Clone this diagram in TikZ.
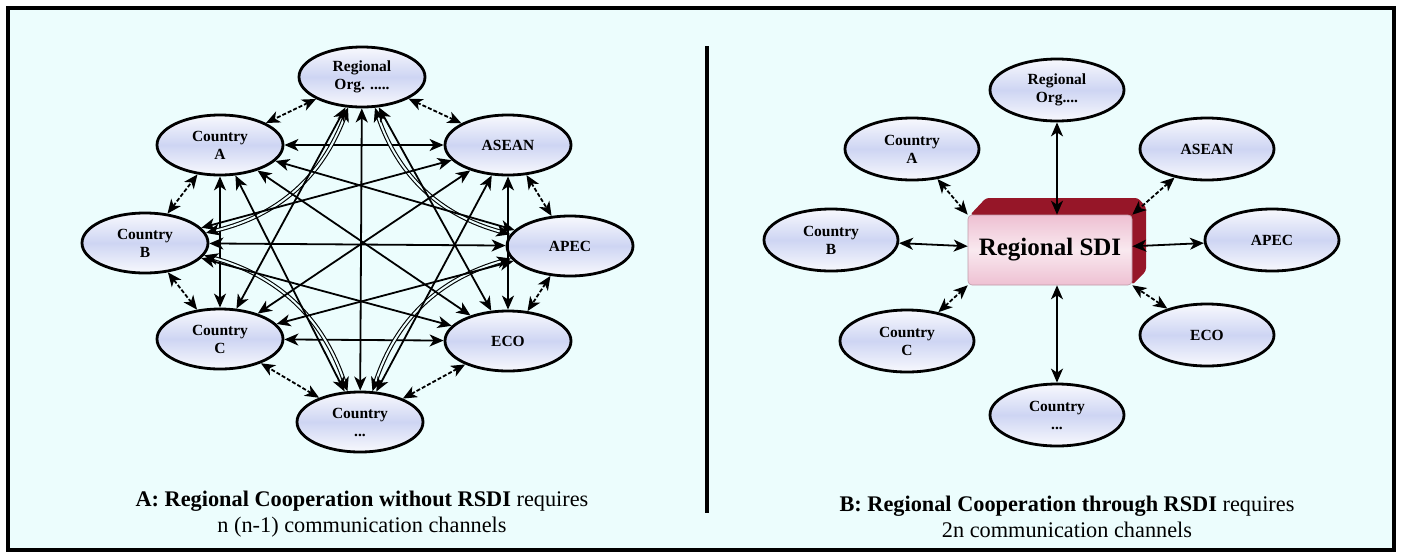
\documentclass[tikz,border=0pt]{standalone}
\usepackage{fontspec}
\setmainfont{Liberation Serif}
\usetikzlibrary{shapes.geometric,arrows.meta,calc}
\definecolor{bgc}{RGB}{236,253,253}
\definecolor{ellc}{RGB}{206,213,243}
\definecolor{sdipink}{RGB}{238,192,210}
\definecolor{sdired}{RGB}{150,22,40}
\begin{document}
\begin{tikzpicture}[x=1pt,y=-1pt,
  >={Stealth[length=14pt,width=12pt,inset=4pt]},
  ell/.style={ellipse, draw=black, line width=2.8pt, top color=ellc!15, bottom color=ellc!15, middle color=ellc,
    align=center, font=\fontsize{15.5}{18}\selectfont\bfseries, inner sep=0pt},
  lell/.style={ell, minimum width=126pt, minimum height=60pt},
  rell/.style={ell, minimum width=134pt, minimum height=62pt},
  conn/.style={<->, line width=1.8pt},
  adj/.style={conn, dash pattern=on 4pt off 2pt},
  dbl/.style={<->, line width=1.1pt, double=bgc, double distance=2pt},
  sdibox/.style={rectangle, rounded corners=4pt, minimum width=164pt, minimum height=70pt,
    top color=sdipink, bottom color=sdipink, middle color=sdipink!35, draw=sdipink!80!black, line width=0.6pt,
    font=\fontsize{25}{28}\selectfont\bfseries},
  captext/.style={align=center, font=\fontsize{22.3}{26}\selectfont}
]
\useasboundingbox (0,0) rectangle (1401,555);
\fill[white] (0,0) rectangle (1401,555);
\draw[line width=3.8pt, fill=bgc] (8,8) rectangle (1394,550);
\draw[line width=4pt] (707,46) -- (707,513);

% ---------- left panel ----------
\node[lell] (lRO) at (362,77) {Regional\\Org. .....};
\node[lell] (lCA) at (220,145) {Country\\A};
\node[lell] (lAS) at (508,145) {ASEAN};
\node[lell] (lCB) at (145,243) {Country\\B};
\node[lell] (lAP) at (570,246) {APEC};
\node[lell] (lCC) at (220,339) {Country\\C};
\node[lell] (lEC) at (508,341) {ECO};
\node[lell] (lCD) at (360,422) {Country\\...};

% neighbours
\foreach \a/\b in {lRO/lCA, lRO/lAS, lAS/lAP, lAP/lEC, lEC/lCD, lCD/lCC, lCC/lCB, lCB/lCA}
  \draw[adj] (\a) -- (\b);
% distance two, straight
\foreach \a/\b in {lCA/lAS, lAS/lEC, lEC/lCC, lCC/lCA}
  \draw[conn] (\a) -- (\b);
% distance two, curved
\draw[dbl] (lCB) to[bend right=28] (lRO);
\draw[dbl] (lAP) to[bend left=28] (lRO);
\draw[dbl] (lCB) to[bend left=28] (lCD);
\draw[dbl] (lAP) to[bend right=28] (lCD);
% distance three and four
\foreach \a/\b in {lRO/lEC, lAS/lCD, lAP/lCC, lEC/lCB, lCD/lCA, lCC/lRO, lCB/lAS, lCA/lAP,
                   lRO/lCD, lAS/lCC, lAP/lCB, lEC/lCA}
  \draw[conn] (\a) -- (\b);

\node[captext] (capA) at (362,514) {\textbf{A: Regional Cooperation without RSDI} requires\\n (n-1) communication channels};

% ---------- right panel ----------
\fill[sdired, rounded corners=3pt] (970,215) -- (986,198) -- (1138,198) -- (1146,207) -- (1146,271) -- (1132,285) -- (1132,215) -- cycle;
\node[sdibox] (sdi) at (1050,250) {Regional SDI};

\node[rell] (rRO) at (1057,90) {Regional\\Org....};
\node[rell] (rCA) at (912,149) {Country\\A};
\node[rell] (rAS) at (1207,149) {ASEAN};
\node[rell] (rCB) at (831,240) {Country\\B};
\node[rell] (rAP) at (1272,240) {APEC};
\node[rell] (rCC) at (907,341) {Country\\C};
\node[rell] (rEC) at (1207,335) {ECO};
\node[rell] (rCD) at (1057,415) {Country\\...};

\draw[conn] (rRO) -- (rRO |- sdi.north);
\draw[conn] (rCD) -- (rCD |- sdi.south);
\draw[conn] (rCB) -- (sdi);
\draw[conn] (sdi) -- (rAP);
\draw[adj] (rCA) -- (sdi.north west);
\draw[adj] (rAS) -- (sdi.north east);
\draw[adj] (rCC) -- (sdi.south west);
\draw[adj] (rEC) -- (sdi.south east);

\node[captext] (capB) at (1067,517) {\textbf{B: Regional Cooperation through RSDI} requires\\2n communication channels};
\end{tikzpicture}
\end{document}
